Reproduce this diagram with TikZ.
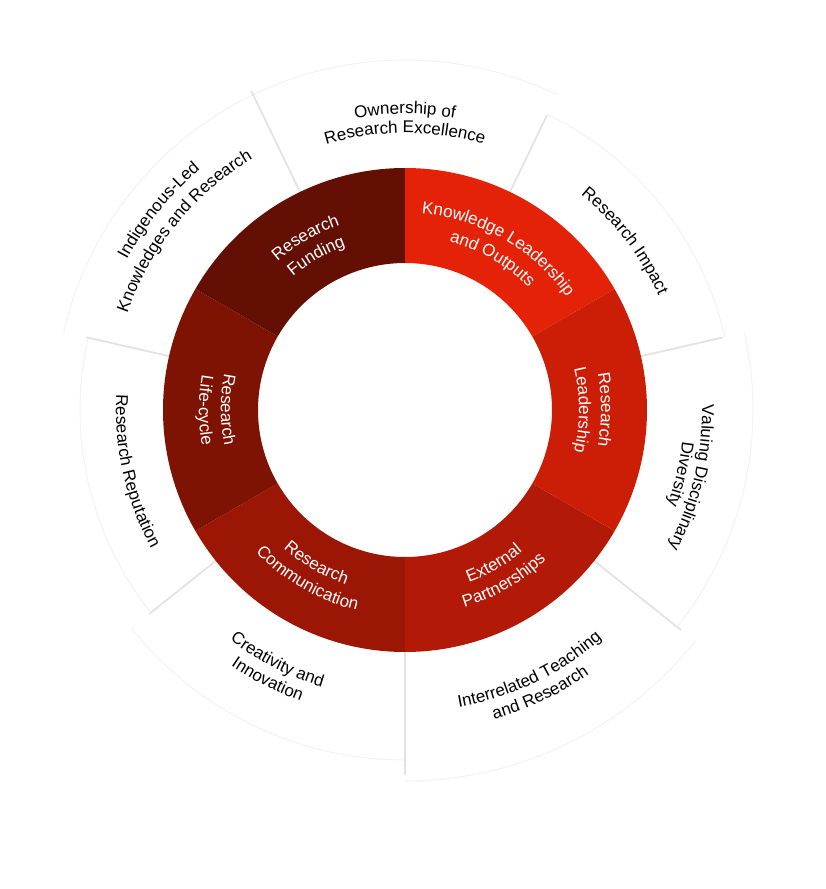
\documentclass[tikz,border=0pt]{standalone}
\usepackage{fontspec}
\setmainfont{Liberation Sans}
\usetikzlibrary{decorations.text}
\definecolor{segKL}{HTML}{E32208}
\definecolor{segRL}{HTML}{CC1E07}
\definecolor{segEP}{HTML}{B21906}
\definecolor{segRC}{HTML}{9B1605}
\definecolor{segLC}{HTML}{7E1203}
\definecolor{segRF}{HTML}{640F03}
\newcommand\rdRingFmt{\fontsize{17}{20}\selectfont\color{white}}
\newcommand\rdOutFmt{\fontsize{17}{20}\selectfont\color{black}}
% clockwise arc text (tops facing outward): #1 angle, #2 baseline radius, #3 format, #4 text
\newcommand\rdCw[4]{\path[decorate,decoration={text along path,text align=center,text={|#3|#4}}]
  (#1+70:#2pt) arc[start angle=#1+70, end angle=#1-70, radius=#2pt];}
% counter-clockwise arc text (tops facing the centre)
\newcommand\rdCcw[4]{\path[decorate,decoration={text along path,text align=center,text={|#3|#4}}]
  (#1-70:#2pt) arc[start angle=#1-70, end angle=#1+70, radius=#2pt];}
\tikzset{
  divider/.style={draw=black!11, line width=1.8pt},
  cardedge/.style={draw=black!5, line width=1pt},
}
\begin{document}
\begin{tikzpicture}
\useasboundingbox (-405pt,-479pt) rectangle (420pt,410pt);
% outer cards: faint outer edges
\draw[cardedge] (-90:371pt) arc[start angle=-90, end angle=-38.571, radius=371pt];
\draw[cardedge] (-38.571:348pt) arc[start angle=-38.571, end angle=12.857, radius=348pt];
\draw[cardedge] (12.857:328pt) arc[start angle=12.857, end angle=64.286, radius=328pt];
\draw[cardedge] (64.286:350pt) arc[start angle=64.286, end angle=115.714, radius=350pt];
\draw[cardedge] (115.714:350pt) arc[start angle=115.714, end angle=167.143, radius=350pt];
\draw[cardedge] (167.143:325pt) arc[start angle=167.143, end angle=218.571, radius=325pt];
\draw[cardedge] (218.571:350pt) arc[start angle=218.571, end angle=270, radius=350pt];
% dividers between outer cards
\foreach \a/\r in {-90/365, -38.571/353, 12.857/326, 64.286/327, 115.714/354, 167.143/327, 218.571/327}
  \draw[divider] (\a:240pt) -- (\a:\r pt);
% ring segments
\fill[segKL] (90:242pt) arc[start angle=90, end angle=30, radius=242pt] -- (30:147pt) arc[start angle=30, end angle=90, radius=147pt] -- cycle;
\fill[segRL] (30:242pt) arc[start angle=30, end angle=-30, radius=242pt] -- (-30:147pt) arc[start angle=-30, end angle=30, radius=147pt] -- cycle;
\fill[segEP] (-30:242pt) arc[start angle=-30, end angle=-90, radius=242pt] -- (-90:147pt) arc[start angle=-90, end angle=-30, radius=147pt] -- cycle;
\fill[segRC] (-90:242pt) arc[start angle=-90, end angle=-150, radius=242pt] -- (-150:147pt) arc[start angle=-150, end angle=-90, radius=147pt] -- cycle;
\fill[segLC] (-150:242pt) arc[start angle=-150, end angle=-210, radius=242pt] -- (-210:147pt) arc[start angle=-210, end angle=-150, radius=147pt] -- cycle;
\fill[segRF] (150:242pt) arc[start angle=150, end angle=90, radius=242pt] -- (90:147pt) arc[start angle=90, end angle=150, radius=147pt] -- cycle;
% ring labels
\rdCw{120}{196}{\rdRingFmt}{Research}
\rdCw{120}{174}{\rdRingFmt}{Funding}
\rdCw{60}{197}{\rdRingFmt}{Knowledge Leadership}
\rdCw{60}{174}{\rdRingFmt}{and Outputs}
\rdCw{0}{196}{\rdRingFmt}{Research}
\rdCw{0}{174}{\rdRingFmt}{Leadership}
\rdCcw{-60}{184}{\rdRingFmt}{External}
\rdCcw{-60}{206}{\rdRingFmt}{Partnerships}
\rdCcw{-120}{184}{\rdRingFmt}{Research}
\rdCcw{-120}{206}{\rdRingFmt}{Communication}
\rdCcw{180}{184}{\rdRingFmt}{Research}
\rdCcw{180}{206}{\rdRingFmt}{Life-cycle}
% outer labels
\rdCw{90}{296}{\rdOutFmt}{Ownership of}
\rdCw{90}{277}{\rdOutFmt}{Research Excellence}
\rdCw{37.5}{278}{\rdOutFmt}{Research Impact}
\rdCw{-13.2}{297}{\rdOutFmt}{Valuing Disciplinary}
\rdCw{-13.2}{279}{\rdOutFmt}{Diversity}
\rdCcw{-64.5}{302}{\rdOutFmt}{Interrelated Teaching}
\rdCcw{-64.5}{322}{\rdOutFmt}{and Research}
\rdCcw{-117}{289}{\rdOutFmt}{Creativity and}
\rdCcw{-117}{309}{\rdOutFmt}{Innovation}
\rdCcw{192.8}{289}{\rdOutFmt}{Research Reputation}
\rdCw{141}{316}{\rdOutFmt}{Indigenous-Led}
\rdCw{141}{294}{\rdOutFmt}{Knowledges and Research}
\end{tikzpicture}
\end{document}
